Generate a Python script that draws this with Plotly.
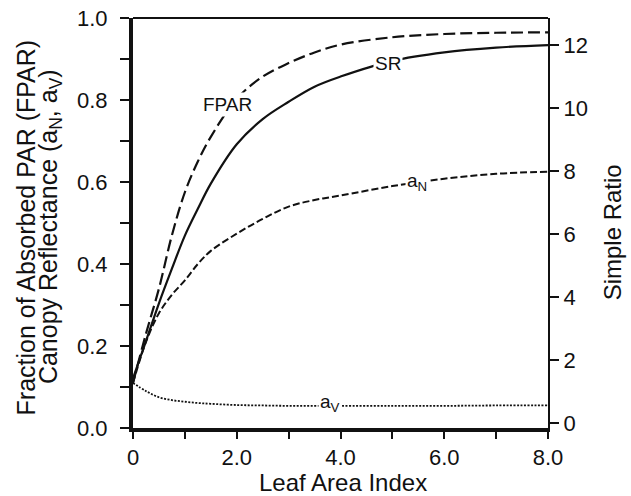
import plotly.graph_objects as go

# leaf area index samples
lai = [0, 0.25, 0.5, 0.75, 1.0, 1.25, 1.5, 2.0, 2.5, 3.0, 3.5, 4.0, 5.0, 6.0, 7.0, 8.0]

# left axis (fraction)
fpar = [0.11, 0.23, 0.34, 0.47, 0.575, 0.65, 0.71, 0.803, 0.857, 0.89, 0.916, 0.935, 0.953, 0.961, 0.964, 0.965]
a_n = [0.11, 0.21, 0.28, 0.325, 0.36, 0.40, 0.432, 0.474, 0.51, 0.54, 0.556, 0.567, 0.59, 0.608, 0.62, 0.625]
a_v = [0.11, 0.09, 0.075, 0.068, 0.064, 0.061, 0.059, 0.056, 0.055, 0.054, 0.054, 0.054, 0.054, 0.054, 0.055, 0.055]

# right axis (simple ratio)
sr = [1.42, 2.6, 3.8, 4.9, 5.95, 6.8, 7.6, 8.85, 9.65, 10.2, 10.68, 11.0, 11.5, 11.77, 11.92, 12.0]

x_ticks = [0, 1, 2, 3, 4, 5, 6, 7, 8]
x_labels = ["0", "", "2.0", "", "4.0", "", "6.0", "", "8.0"]
y_ticks = [0, 0.1, 0.2, 0.3, 0.4, 0.5, 0.6, 0.7, 0.8, 0.9, 1.0]
y_labels = ["0.0", "", "0.2", "", "0.4", "", "0.6", "", "0.8", "", "1.0"]
y2_ticks = [0, 2, 4, 6, 8, 10, 12]

font = "Liberation Sans, Arial, Helvetica, sans-serif"
ink = "#111111"

fig = go.Figure()
fig.add_trace(go.Scatter(x=lai, y=fpar, mode="lines", line_shape="spline",
                         line=dict(color=ink, width=2.2, dash="12px,5px")))
fig.add_trace(go.Scatter(x=lai, y=a_n, mode="lines", line_shape="spline",
                         line=dict(color=ink, width=2, dash="7px,3px")))
fig.add_trace(go.Scatter(x=lai, y=a_v, mode="lines", line_shape="spline",
                         line=dict(color=ink, width=1.8, dash="2px,1.5px")))
fig.add_trace(go.Scatter(x=lai, y=sr, mode="lines", line_shape="spline", yaxis="y2",
                         line=dict(color=ink, width=2.2)))

# curve labels (white box hides the line under it)
labels = [
    dict(x=1.82, y=0.79, yref="y", text="FPAR"),
    dict(x=4.91, y=11.43, yref="y2", text="SR"),
    dict(x=5.47, y=0.60, yref="y", text="a<sub>N</sub>"),
    dict(x=3.79, y=0.061, yref="y", text="a<sub>V</sub>"),
]
annotations = []
for l in labels:
    annotations.append(dict(x=l["x"], y=l["y"], xref="x", yref=l["yref"], text=l["text"],
                            showarrow=False, bgcolor="white", borderpad=1,
                            font=dict(size=19, color=ink, family=font)))

# axis titles
annotations.append(dict(x=-0.257, y=0.49, xref="paper", yref="paper", textangle=-90,
                        text="Fraction of Absorbed PAR (FPAR)", showarrow=False,
                        xanchor="center", yanchor="middle", font=dict(size=25, color=ink, family=font)))
annotations.append(dict(x=-0.2, y=0.49, xref="paper", yref="paper", textangle=-90,
                        text="Canopy Reflectance (a<sub>N</sub>, a<sub>V</sub>)", showarrow=False,
                        xanchor="center", yanchor="middle", font=dict(size=25, color=ink, family=font)))
annotations.append(dict(x=1.155, y=0.478, xref="paper", yref="paper", textangle=-90,
                        text="Simple Ratio", showarrow=False,
                        xanchor="center", yanchor="middle", font=dict(size=24, color=ink, family=font)))
annotations.append(dict(x=0.505, y=-0.134, xref="paper", yref="paper",
                        text="Leaf Area Index", showarrow=False,
                        xanchor="center", yanchor="middle", font=dict(size=24, color=ink, family=font)))

fig.update_layout(
    width=631, height=496,
    margin=dict(l=133, r=83, t=18, b=68),
    template="none",
    plot_bgcolor="white", paper_bgcolor="white",
    showlegend=False,
    hovermode=False,
    font=dict(family=font, size=22, color=ink),
    annotations=annotations,
    xaxis=dict(range=[0, 8], tickvals=x_ticks, ticktext=x_labels, ticks="outside",
               ticklen=7, tickwidth=2, tickcolor=ink, showline=True, linewidth=4, linecolor=ink,
               showgrid=False, zeroline=False, automargin=False),
    yaxis=dict(range=[0, 1], tickvals=y_ticks, ticktext=y_labels, ticks="outside",
               ticklen=9, tickwidth=2, tickcolor=ink, showline=True, linewidth=4, linecolor=ink,
               showgrid=False, zeroline=False, automargin=False, ticklabelstandoff=8),
    yaxis2=dict(range=[-0.16, 12.86], tickvals=y2_ticks, overlaying="y", side="right",
                ticks="outside", ticklen=9, tickwidth=2, tickcolor=ink, showline=True,
                linewidth=2, linecolor=ink, showgrid=False, zeroline=False, automargin=False),
    shapes=[dict(type="line", xref="paper", yref="paper", x0=0, x1=1, y0=1, y1=1,
                 line=dict(color=ink, width=2))],
)

# drop the default page margin so the figure fills the window, and hide the modebar
fig.write_html("out.html", config={"displayModeBar": False},
               post_script="document.body.style.margin = '0';")
